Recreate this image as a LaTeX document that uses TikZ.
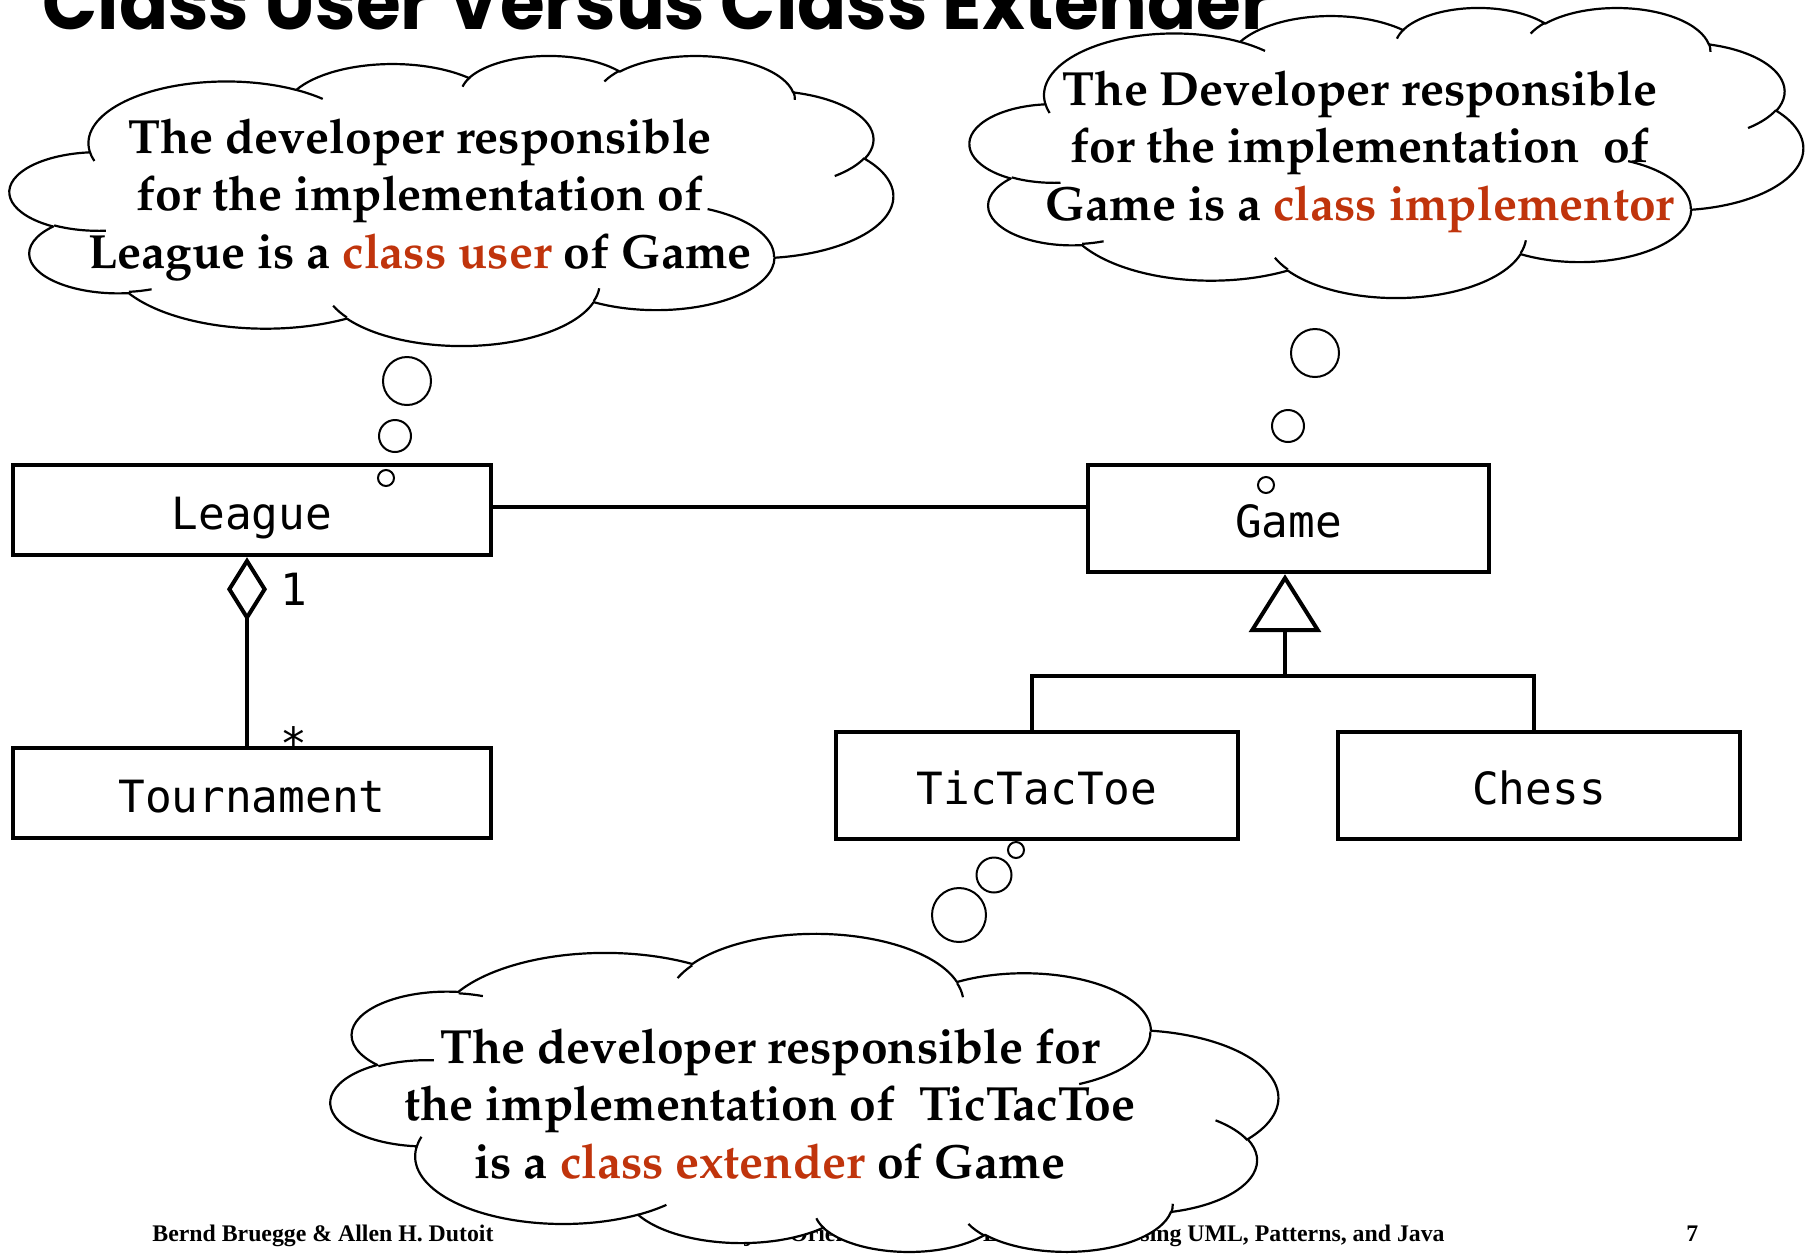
\documentclass[tikz,border=0pt]{standalone}
\usepackage[T1]{fontenc}
\usepackage{fontspec}
\usetikzlibrary{arrows.meta}
\newfontfamily\monofnt{DejaVu Sans Mono}
\newfontfamily\footfnt{Liberation Serif}
\newfontfamily\titlefnt{Poppins}
\newcommand\palfnt{\fontencoding{T1}\fontfamily{ppl}\fontseries{b}\fontshape{n}\selectfont}
\definecolor{accred}{RGB}{192,52,12}
\tikzset{
  umlbox/.style={draw, line width=2.2pt, inner sep=0pt, font=\monofnt\fontsize{22.2pt}{26pt}\selectfont, text height=19pt, text depth=0pt},
  monolbl/.style={inner sep=0pt, font=\monofnt\fontsize{22.2pt}{26pt}\selectfont},
  conn/.style={line width=2pt},
  cloudline/.style={line width=1.1pt, line join=round},
  bubble/.style={draw, line width=1pt, fill=white},
  cloudtext/.style={align=center, inner sep=0pt, font=\palfnt\fontsize{24pt}{28.75pt}\selectfont},
  foot/.style={inner sep=0pt, font=\footfnt\bfseries\fontsize{11.9pt}{13pt}\selectfont},
  pp/.style n args={4}{x radius=#1, y radius=#2,
    start angle={atan2((#1)*sin(#3),(#2)*cos(#3))},
    delta angle={mod(atan2((#1)*sin((#3)+(#4)),(#2)*cos((#3)+(#4)))-atan2((#1)*sin(#3),(#2)*cos(#3))+720,360)}}
}
% #1,#2: corner of the frame; #3: width; #4: height (negative = flipped vertically)
\newcommand\drawcloud[4]{%
\begin{scope}[shift={(#1,#2)}, xscale=#3/432, yscale=#4/432]
\filldraw[cloudline, fill=white] (39.00,143.70)
  arc[pp={67.53}{91.90}{-190.4875}{123.7805}]
  arc[pp={53.33}{72.67}{-144.1024}{89.9452}]
  arc[pp={43.65}{59.45}{-145.8079}{99.7230}]
  arc[pp={48.57}{65.95}{-130.9861}{117.2417}]
  arc[pp={53.33}{72.73}{-78.7089}{109.0269}]
  arc[pp={67.75}{92.20}{-46.2673}{130.2690}]
  arc[pp={57.85}{78.67}{0.6250}{114.0333}]
  arc[pp={67.52}{92.15}{22.4516}{115.1726}]
  arc[pp={77.20}{105.43}{66.2426}{75.7110}]
  arc[pp={43.60}{59.18}{-274.9421}{146.7356}]
  arc[pp={43.45}{59.45}{-246.8285}{152.5189}] -- cycle;
\draw[cloudline]
  (46.93,261.77) arc[pp={43.45}{59.45}{86.7420}{26.4295}]
  (69.28,348.99) arc[pp={43.60}{59.18}{73.6105}{11.4475}]
  (164.78,390.90) arc[pp={67.52}{92.15}{137.6242}{14.0811}]
  (288.27,347.51) arc[pp={67.52}{92.15}{6.4533}{15.9984}]
  (341.29,229.54) arc[pp={57.85}{78.67}{-70.2924}{70.9174}]
  (417.98,153.54) arc[pp={53.33}{72.73}{30.3180}{27.7515}]
  (383.24,54.26) arc[pp={48.57}{65.95}{-13.7443}{14.8589}]
  (290.78,39.52) arc[pp={48.57}{65.95}{-149.1815}{18.1954}]
  (221.41,47.20) arc[pp={43.65}{59.45}{-163.4943}{17.6864}]
  (140.00,51.92) arc[pp={67.53}{91.90}{-66.7070}{12.3194}]
  (41.27,157.89) arc[pp={67.53}{91.90}{157.6544}{11.8582}];
\end{scope}}
\begin{document}
\begin{tikzpicture}[x=0.5pt, y=-0.5pt]
\useasboundingbox (0,0) rectangle (1805,1255);
\clip (0,0) rectangle (1805,1255);
\fill[white] (0,0) rectangle (1805,1255);

% title (cut off at the top)
\node[anchor=base west, inner sep=0pt] (title) at (42,29)
  {\resizebox{615pt}{28pt}{\titlefnt\bfseries Class User Versus Class Extender}};

% footer
\node[foot, anchor=base west] (authors) at (152,1241) {Bernd Bruegge \& Allen H. Dutoit};
\node[foot, anchor=base east] (book) at (1445,1241)
  {Object-Oriented Software Engineering: Using UML, Patterns, and Java};
\node[foot, anchor=base west] (page) at (1686,1241) {7};

% classes
\node[umlbox, minimum width=239pt, minimum height=45pt] (League) at (252,510) {League};
\node[umlbox, minimum width=239pt, minimum height=45pt] (Tournament) at (252,793) {Tournament};
\node[umlbox, minimum width=200.5pt, minimum height=53.5pt] (Game) at (1288.5,518.5) {Game};
\node[umlbox, minimum width=201pt, minimum height=53.5pt] (TicTacToe) at (1037,785.5) {TicTacToe};
\node[umlbox, minimum width=201pt, minimum height=53.5pt] (Chess) at (1539,785.5) {Chess};

% association League - Game
\draw[conn] ([yshift=1.5pt]League.east) -- ([yshift=1.5pt]League.east -| Game.west);

% aggregation League <>- Tournament
\draw[conn, -{Diamond[open, length=32pt, width=20pt]}]
  ([xshift=-2.5pt]Tournament.north) -- ([xshift=-2.5pt]League.south);
\node[monolbl, anchor=base west] (one) at (280,605) {1};
\node[monolbl, anchor=base west] (many) at (280,759) {*};

% generalization
\coordinate (J) at (1285,676);
\draw[conn, line join=miter] ([xshift=-2.5pt]TicTacToe.north) |- (J) -| ([xshift=-2.5pt]Chess.north);
\draw[conn, -{Triangle[open, length=29pt, width=36pt]}] (J) -- (J |- Game.south);

% clouds
\drawcloud{10}{55}{883}{290}
\drawcloud{970}{7}{833}{290}
\drawcloud{331}{1253}{947}{-318}

% thought bubbles
\draw[bubble] (407,381) circle[radius=24];
\draw[bubble] (395,436) circle[radius=16];
\draw[bubble] (386,478) circle[radius=8];
\draw[bubble] (1315,353) circle[radius=24];
\draw[bubble] (1288,426) circle[radius=16];
\draw[bubble] (1266,485) circle[radius=8];
\draw[bubble] (959,915) circle[radius=27];
\draw[bubble] (994,875) circle[radius=17.5];
\draw[bubble] (1016,850) circle[radius=8];

% cloud texts (anchor = baseline of the last line)
\node[cloudtext, anchor=base] (userText) at (420,268)
  {The developer responsible\\for the implementation of\\League is a \textcolor{accred}{class user} of Game};
\node[cloudtext, anchor=base] (implText) at (1360,220)
  {The Developer responsible\\for the implementation~ of\\Game is a \textcolor{accred}{class implementor}};
\node[cloudtext, anchor=base] (extText) at (770,1178)
  {The developer responsible for\\the implementation of~ TicTacToe\\is a \textcolor{accred}{class extender} of Game};
\end{tikzpicture}
\end{document}
